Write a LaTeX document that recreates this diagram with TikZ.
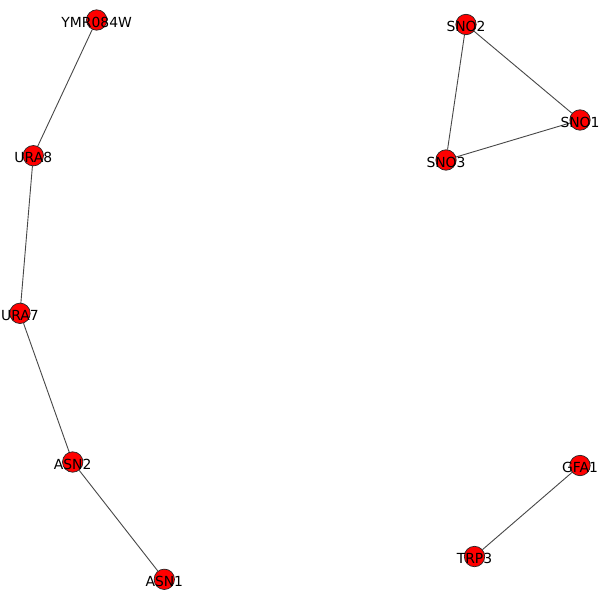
\documentclass[tikz,border=0pt]{standalone}
\usepackage{fontspec}
\setmainfont{DejaVu Sans}
\begin{document}
\begin{tikzpicture}[x=1bp,y=-1bp,
  gene/.style={circle,fill=red,draw=black!85,line width=0.7bp,minimum size=20.4bp,inner sep=0pt},
  genelabel/.style={anchor=base,inner sep=0pt,text=black,font=\fontsize{13.9bp}{16bp}\selectfont},
  link/.style={draw=black!72,line width=0.9bp}]
\useasboundingbox[fill=white] (0,0) rectangle (600,600);
% genes
\node[gene] (ymr084w) at (96.7,20) {};
\node[gene] (ura8) at (33.3,155.7) {};
\node[gene] (ura7) at (20,313.3) {};
\node[gene] (asn2) at (72.7,462) {};
\node[gene] (asn1) at (164.3,579.3) {};
\node[gene] (sno2) at (466,24.5) {};
\node[gene] (sno1) at (580,120) {};
\node[gene] (sno3) at (446,160) {};
\node[gene] (gfa1) at (580,465.5) {};
\node[gene] (trp3) at (474.5,556.5) {};
% interactions
\draw[link] (ymr084w) -- (ura8);
\draw[link] (ura8) -- (ura7);
\draw[link] (ura7) -- (asn2);
\draw[link] (asn2) -- (asn1);
\draw[link] (sno2) -- (sno1);
\draw[link] (sno2) -- (sno3);
\draw[link] (sno3) -- (sno1);
\draw[link] (gfa1) -- (trp3);
% names
\foreach \g/\t in {ymr084w/YMR084W,ura8/URA8,ura7/URA7,asn2/ASN2,asn1/ASN1,sno2/SNO2,sno1/SNO1,sno3/SNO3,gfa1/GFA1,trp3/TRP3}
  \node[genelabel] (\g-name) at ([yshift=-7.3bp]\g.center) {\t};
\end{tikzpicture}
\end{document}
